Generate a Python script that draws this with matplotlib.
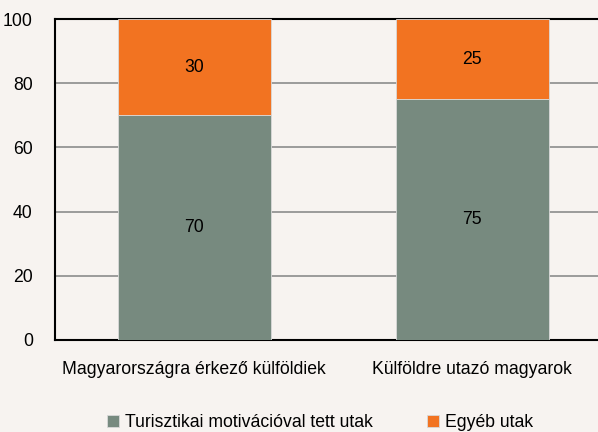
import numpy as np
import matplotlib
matplotlib.use('Agg')
import matplotlib.pyplot as plt

categories = ['Magyarországra érkező külföldiek', 'Külföldre utazó magyarok']
turisztikai = [70, 75]
egyeb = [30, 25]
series_names = ['Turisztikai motivációval tett utak', 'Egyéb utak']

bg = '#f7f3f0'
c_green = '#778a7f'
c_orange = '#f27321'

plt.rcParams['font.family'] = ['Liberation Sans', 'DejaVu Sans']
fs = 12.7

fig = plt.figure(figsize=(5.98, 4.32), dpi=100, facecolor=bg)
ax = fig.add_axes([0.092, 0.213, 0.930, 0.743], facecolor=bg)

x = np.arange(len(categories))
b1 = ax.bar(x, turisztikai, 0.55, color=c_green, edgecolor='#d9d9d9', linewidth=0.6,
            label=series_names[0], zorder=3)
b2 = ax.bar(x, egyeb, 0.55, bottom=turisztikai, color=c_orange, edgecolor='#d9d9d9',
            linewidth=0.6, label=series_names[1], zorder=3)

for i in range(len(categories)):
    ax.text(x[i], turisztikai[i] / 2, str(turisztikai[i]), ha='center', va='center',
            fontsize=fs, zorder=4)
    ax.text(x[i], turisztikai[i] + egyeb[i] / 2, str(egyeb[i]), ha='center', va='center',
            fontsize=fs, zorder=4)

ax.set_xlim(-0.5, 1.5)
ax.set_ylim(0, 100)
ax.set_yticks(range(0, 101, 20))
ax.yaxis.grid(True, color='#8c8c8c', linewidth=1.2, zorder=0)
ax.set_xticks(x)
ax.set_xticklabels(categories, fontsize=fs)
ax.tick_params(axis='y', labelsize=fs, length=0, pad=16)
ax.tick_params(axis='x', length=0, pad=15)
for s in ['left', 'bottom', 'top']:
    ax.spines[s].set_color('black')
    ax.spines[s].set_linewidth(1.5)
ax.spines['right'].set_visible(False)

fig.legend(handles=[b1, b2], labels=series_names, loc='center', bbox_to_anchor=(0.535, 0.022),
           ncol=2, frameon=False, fontsize=fs, handlelength=0.7, handleheight=0.7,
           handletextpad=0.3, columnspacing=3.1)

fig.savefig('out.png', dpi=100, facecolor=bg)
